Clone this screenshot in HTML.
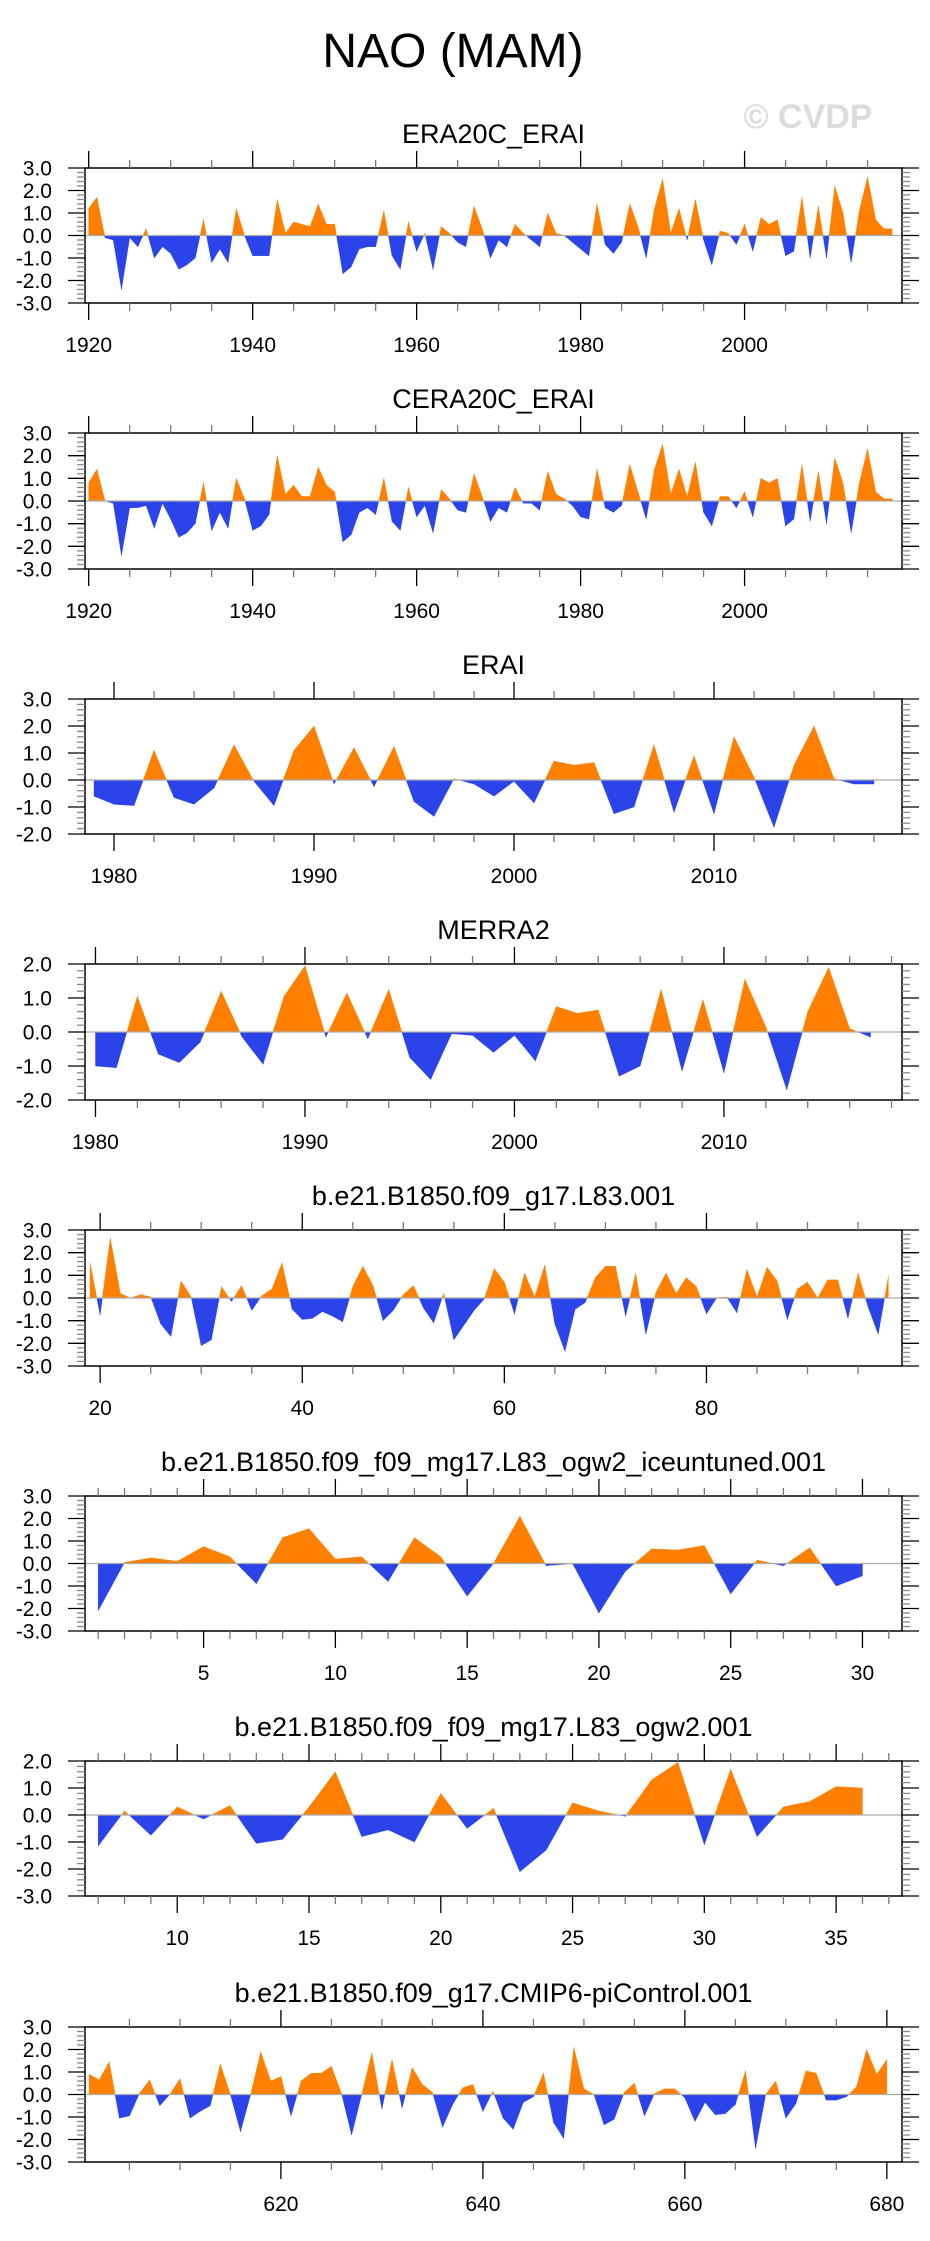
<!DOCTYPE html>
<html><head><meta charset="utf-8"><style>
html,body{margin:0;padding:0;background:#fff;}
svg{display:block;font-family:"Liberation Sans",Arial,sans-serif;}
</style></head><body>
<svg id="fig" width="930" height="2241" viewBox="0 0 930 2241" xmlns="http://www.w3.org/2000/svg">
<text x="453" y="67" font-size="48" text-anchor="middle">NAO (MAM)</text>
<text x="808" y="128" font-size="34" font-weight="bold" fill="#dcdcdc" text-anchor="middle">© CVDP</text>
</svg>
<script>
// ---- data ----
const titles = ["ERA20C_ERAI","CERA20C_ERAI","ERAI","MERRA2","b.e21.B1850.f09_g17.L83.001","b.e21.B1850.f09_f09_mg17.L83_ogw2_iceuntuned.001","b.e21.B1850.f09_f09_mg17.L83_ogw2.001","b.e21.B1850.f09_g17.CMIP6-piControl.001"];
const startYears = [1920,1920,1979,1980,19,1,7,601];
const era20cValues = [1.2,1.7,-0.1,-0.2,-2.4,-0.1,-0.5,0.3,-1.0,-0.5,-0.8,-1.5,-1.3,-1.0,0.7,-1.2,-0.6,-1.2,1.2,0.0,-0.9,-0.9,-0.9,1.6,0.1,0.6,0.5,0.4,1.4,0.5,0.5,-1.7,-1.4,-0.6,-0.5,-0.5,1.1,-0.9,-1.5,0.6,-0.7,0.1,-1.5,0.4,0.1,-0.3,-0.5,1.3,0.3,-1.0,-0.2,-0.5,0.5,0.1,-0.2,-0.5,1.0,0.1,0.0,-0.3,-0.6,-0.9,1.4,-0.4,-0.8,-0.3,1.4,0.4,-1.0,1.2,2.5,0.1,1.2,-0.2,1.6,-0.2,-1.3,0.2,0.1,-0.4,0.5,-0.7,0.8,0.5,0.7,-0.9,-0.7,1.7,-1.0,1.3,-1.0,2.2,1.0,-1.2,1.1,2.6,0.7,0.3,0.3];
const cera20cValues = [0.8,1.4,0.0,-0.1,-2.4,-0.3,-0.3,-0.2,-1.2,-0.1,-0.8,-1.6,-1.4,-1.0,0.8,-1.3,-0.5,-1.2,1.0,0.1,-1.3,-1.1,-0.6,2.0,0.3,0.7,0.2,0.2,1.5,0.7,0.4,-1.8,-1.5,-0.5,-0.3,-0.6,1.0,-0.9,-1.3,0.6,-0.7,-0.2,-1.4,0.5,0.1,-0.4,-0.5,1.2,0.2,-0.9,-0.3,-0.5,0.6,-0.1,-0.1,-0.4,1.3,0.3,0.1,-0.2,-0.7,-0.8,1.4,-0.3,-0.5,-0.2,1.6,0.4,-0.8,1.4,2.5,0.3,1.4,0.2,1.7,-0.5,-1.1,0.2,0.2,-0.3,0.4,-0.7,1.0,0.8,1.0,-1.1,-0.8,1.6,-0.9,1.3,-1.0,1.9,0.8,-1.4,0.8,2.3,0.4,0.1,0.1];
const eraiValues = [-0.6,-0.9,-0.95,1.1,-0.65,-0.9,-0.3,1.3,-0.05,-0.95,1.1,2.0,-0.15,1.2,-0.25,1.25,-0.8,-1.35,0.05,-0.15,-0.6,-0.05,-0.85,0.7,0.55,0.65,-1.25,-1.0,1.3,-1.2,0.9,-1.25,1.6,0.1,-1.75,0.55,2.0,0.05,-0.15,-0.15];
const merra2Values = [-1.0,-1.05,1.05,-0.65,-0.9,-0.3,1.2,-0.15,-0.95,1.05,1.95,-0.15,1.15,-0.2,1.25,-0.75,-1.4,-0.05,-0.1,-0.6,-0.1,-0.85,0.75,0.55,0.65,-1.3,-1.0,1.25,-1.15,0.95,-1.2,1.55,0.15,-1.7,0.6,1.9,0.1,-0.15];
const l83Values = [1.55,-0.75,2.65,0.2,0.0,0.15,0.05,-1.15,-1.7,0.75,0.05,-2.1,-1.85,0.5,-0.15,0.55,-0.55,0.1,0.4,1.55,-0.5,-0.95,-0.9,-0.6,-0.8,-1.05,0.5,1.4,0.55,-1.0,-0.55,0.15,0.55,-0.45,-1.1,0.2,-1.85,-1.2,-0.55,-0.05,1.3,0.7,-0.7,1.1,0.05,1.45,-1.15,-2.35,-0.5,-0.2,0.9,1.4,1.4,-0.8,1.1,-1.6,0.25,1.1,0.2,0.9,0.5,-0.7,0.0,0.05,-0.65,1.25,0.05,1.35,0.75,-0.95,0.4,0.7,0.0,0.8,0.8,-0.9,1.1,-0.4,-1.6,0.95];
const iceuntunedValues = [-2.1,0.05,0.25,0.1,0.75,0.3,-0.9,1.15,1.55,0.2,0.3,-0.8,1.15,0.3,-1.45,0.0,2.1,-0.1,0.0,-2.2,-0.35,0.65,0.6,0.8,-1.35,0.15,-0.1,0.7,-1.0,-0.55];
const ogw2Values = [-1.15,0.15,-0.75,0.3,-0.15,0.35,-1.05,-0.9,0.3,1.6,-0.8,-0.55,-1.0,0.8,-0.5,0.25,-2.1,-1.3,0.45,0.15,-0.05,1.3,1.95,-1.1,1.7,-0.8,0.3,0.5,1.05,1.0];
const picontrolValues = [0.9,0.65,1.45,-1.05,-0.95,0.05,0.65,-0.5,0.0,0.7,-1.05,-0.75,-0.5,1.35,0.0,-1.65,0.0,1.9,0.6,0.8,-0.95,0.6,0.95,0.95,1.25,0.05,-1.8,0.0,1.85,-0.65,1.55,-0.6,1.2,0.45,0.1,-1.45,-0.45,0.3,0.45,-0.75,0.15,-1.05,-1.55,-0.35,-0.1,0.95,-1.25,-1.95,2.1,0.25,0.0,-1.35,-1.1,0.1,0.5,-0.95,0.05,0.25,0.25,-0.15,-1.2,-0.35,-0.9,-0.85,-0.45,1.05,-2.4,0.0,0.6,-1.05,-0.4,1.05,0.95,-0.25,-0.25,-0.1,0.35,2.0,0.9,1.55];
const xTickLabels = [[1920,1940,1960,1980,2000],[1920,1940,1960,1980,2000],[1980,1990,2000,2010],[1980,1990,2000,2010],[20,40,60,80],[5,10,15,20,25,30],[10,15,20,25,30,35],[620,640,660,680]];
const seriesList = [era20cValues,cera20cValues,eraiValues,merra2Values,l83Values,iceuntunedValues,ogw2Values,picontrolValues];

// ---- layout (not data) ----
const L=85, R=902;
const layout = [
 {top:168,bot:303,ymin:-3,ymax:3,xmin:1919.55,xmax:2019.2,maj:20,min:5,mjs:1920},
 {top:433,bot:569,ymin:-3,ymax:3,xmin:1919.55,xmax:2019.2,maj:20,min:5,mjs:1920},
 {top:699,bot:834,ymin:-2,ymax:3,xmin:1978.55,xmax:2019.4,maj:10,min:2,mjs:1980},
 {top:964,bot:1100,ymin:-2,ymax:2,xmin:1979.5,xmax:2018.5,maj:10,min:2,mjs:1980},
 {top:1230,bot:1366,ymin:-3,ymax:3,xmin:18.5,xmax:99.35,maj:20,min:5,mjs:20},
 {top:1496,bot:1631,ymin:-3,ymax:3,xmin:0.5,xmax:31.5,maj:5,min:1,mjs:5},
 {top:1761,bot:1896,ymin:-3,ymax:2,xmin:6.5,xmax:37.5,maj:5,min:1,mjs:5},
 {top:2027,bot:2162,ymin:-3,ymax:3,xmin:600.6,xmax:681.5,maj:20,min:5,mjs:620}
];
const NS="http://www.w3.org/2000/svg";
const svg=document.getElementById('fig');
function mk(tag,attrs,parent){const e=document.createElementNS(NS,tag);for(const k in attrs)e.setAttribute(k,attrs[k]);(parent||svg).appendChild(e);return e;}

layout.forEach((c,i)=>{
  const vals=seriesList[i], x0=startYears[i];
  const g=mk('g',{});
  
  
  const X=v=>L+(v-c.xmin)/(c.xmax-c.xmin)*(R-L);
  const Y=v=>c.bot-(v-c.ymin)/(c.ymax-c.ymin)*(c.bot-c.top);
  const y0=Y(0);
  // title
  const t=mk('text',{x:(L+R)/2,y:c.top-25,'font-size':27,'text-anchor':'middle'},g);
  t.textContent=titles[i];
  
  
  // build positive and negative polygons
  const pts=vals.map((v,k)=>[x0+k,v]);
  let pos='',neg='';
  const segs=[];
  for(let k=0;k<pts.length-1;k++){
    const [xa,va]=pts[k],[xb,vb]=pts[k+1];
    if((va>0&&vb<0)||(va<0&&vb>0)){
      const xc=xa+(xb-xa)*va/(va-vb);
      segs.push([xa,va,xc,0]);segs.push([xc,0,xb,vb]);
    } else segs.push([xa,va,xb,vb]);
  }
  segs.forEach(s=>{
    const [xa,va,xb,vb]=s;
    const sign=(va+vb)>0?1:((va+vb)<0?-1:0);
    if(sign===0)return;
    const d=`M${X(xa)},${y0}L${X(xa)},${Y(va)}L${X(xb)},${Y(vb)}L${X(xb)},${y0}Z`;
    if(sign>0)pos+=d;else neg+=d;
  });
  const pp=mk('path',{d:pos,fill:'#ff8000',stroke:'#ff8000','stroke-width':0.4},g);
  
  
  const np=mk('path',{d:neg,fill:'#2b44ea',stroke:'#2b44ea','stroke-width':0.4},g);
  
  
  const zl=mk('line',{x1:L,x2:R,y1:y0,y2:y0,stroke:'#aaaaaa','stroke-width':1.2},g);
  
  
  // frame
  const fr=mk('rect',{x:L,y:c.top,width:R-L,height:c.bot-c.top,fill:'none',stroke:'#000','stroke-width':1.5},g);
  
  
  // x ticks
  const first=Math.ceil(c.xmin/c.min)*c.min;
  for(let v=first;v<=c.xmax+1e-9;v+=c.min){
    const isMaj=Math.abs(((v-c.mjs)%c.maj+c.maj)%c.maj)<1e-6;
    const len=isMaj?17:8, x=X(v), col=isMaj?'#000':'#777';
    mk('line',{x1:x,x2:x,y1:c.top,y2:c.top-len,stroke:col,'stroke-width':1.3},g);
    mk('line',{x1:x,x2:x,y1:c.bot,y2:c.bot+len,stroke:col,'stroke-width':1.3},g);
  }
  xTickLabels[i].forEach(v=>{
    const lb=mk('text',{x:X(v),y:c.bot+49,'font-size':21,'text-anchor':'middle'},g);
    lb.textContent=v;
    
    
  });
  // y ticks
  for(let v=c.ymin;v<=c.ymax+1e-9;v+=0.2){
    const r=Math.round(v*10)/10;
    const isMaj=Math.abs(r-Math.round(r))<1e-6;
    const len=isMaj?17:8, y=Y(r), col=isMaj?'#000':'#888';
    mk('line',{x1:L,x2:L-len,y1:y,y2:y,stroke:col,'stroke-width':1.3},g);
    mk('line',{x1:R,x2:R+len,y1:y,y2:y,stroke:col,'stroke-width':1.3},g);
    if(isMaj){
      const lb=mk('text',{x:52,y:y+7.5,'font-size':21,'text-anchor':'end'},g);
      lb.textContent=Math.round(r).toFixed(1);
      
      
    }
  }
});
</script>
</body></html>
